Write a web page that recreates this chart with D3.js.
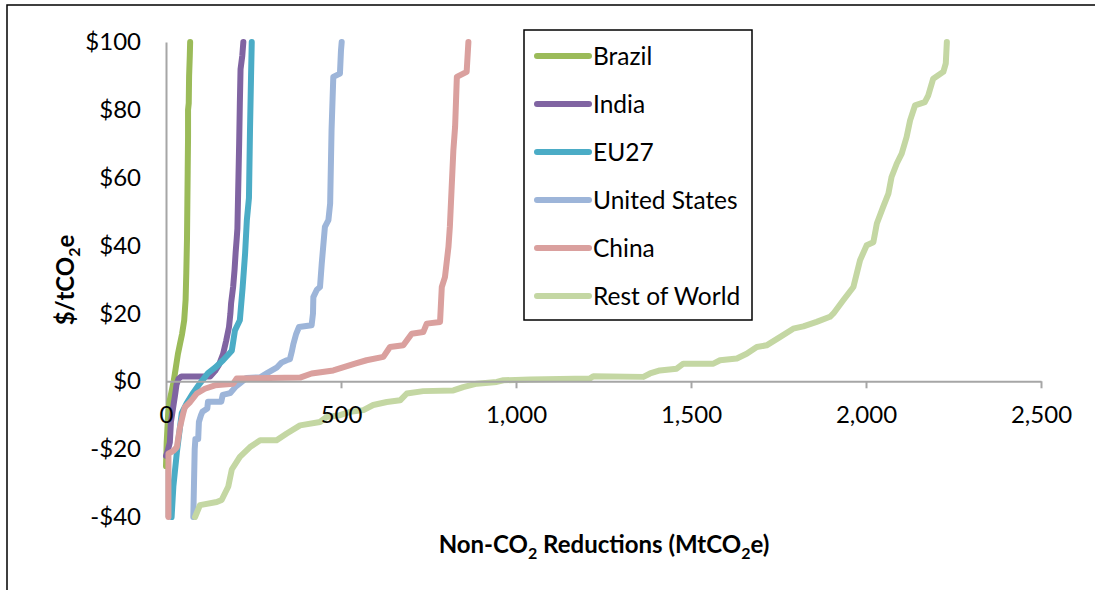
<!DOCTYPE html>
<html>
<head>
<meta charset="utf-8">
<script src="https://cdn.jsdelivr.net/npm/d3@7"></script>
<style>
  html, body { margin: 0; padding: 0; background: #fff; }
  svg { display: block; }
  text { font-family: Lato, "Open Sans", sans-serif; fill: #000; }
</style>
</head>
<body>
<svg id="chart" width="1095" height="590"></svg>
<script>
// Marginal abatement cost curves: [cumulative reduction (MtCO2e), cost ($/tCO2e)]
const brazil = [[0,-25],[2,-18],[6,-10],[10,-6],[16,-3],[22,0],[28,4],[34,8],[40,11],[46,14],[52,18],[56,24],[58,32],[60,42],[61,52],[62,62],[63,72],[63,80],[65,82],[66,90],[68,96],[69,100]];
const india = [[0,-22],[5,-20.5],[11,-18],[14,-12],[20,-8],[26,-4],[30,-1],[36,0.8],[44,1.4],[126,1.4],[140,3],[152,5],[163,8],[172,12],[180,16],[184,20],[186,23],[192,28],[196,33],[199,38],[202,42],[204,45],[206,55],[207,60],[209,70],[211,82],[213,92],[218,96],[221,100]];
const eu27 = [[16,-40],[21,-31],[31,-21],[40,-13.5],[45,-9.4],[59,-6.5],[77,-3.5],[97,-0.6],[120,2.4],[140,4],[163,6.2],[188,9],[197,15],[211,18],[219,27.7],[226,37.7],[231,47.5],[237,54],[240,74],[243,90],[245,100]];
const unitedStates = [[78,-40],[80,-30],[82,-20],[84,-17],[92,-17],[94,-12],[100,-10],[104,-9],[118,-8],[120,-6],[158,-6],[162,-4],[183,-3.5],[200,-1.5],[211,-0.6],[230,1],[269,1.2],[290,2.5],[316,4],[330,5.5],[345,6.2],[354,6.5],[360,9],[364,11],[372,14],[380,16],[416,16.5],[420,20],[421,24.8],[431,27],[440,27.8],[445,34.7],[454,45.5],[464,47.5],[469,52.4],[473,74],[478,89.7],[497,90.7],[500,97.6],[502,100]];
const china = [[7,-40],[7,-21.3],[21,-20.5],[31,-19.4],[40,-13.5],[49,-9.5],[54,-7.6],[69,-6.1],[88,-3.6],[111,-2.2],[140,-1.2],[192,-0.7],[202,0.8],[383,1.1],[416,2.3],[478,3.2],[540,5.2],[573,6.2],[621,7.2],[640,10.1],[678,10.6],[702,14],[735,14.5],[745,17],[783,17.5],[788,27.8],[797,30.7],[807,39.6],[811,45.5],[821,68],[826,75],[831,89.7],[859,91.2],[864,100]];
const restOfWorld = [[83,-40],[97,-36.5],[145,-35.6],[159,-35],[178,-31],[188,-26],[211,-22.3],[240,-19.4],[269,-17.4],[316,-17.4],[345,-15.4],[383,-13],[440,-12],[459,-10.5],[497,-10],[526,-9],[564,-8.5],[592,-7],[631,-6.1],[669,-5.6],[688,-3.6],[735,-2.9],[821,-2.7],[849,-1.7],[888,-0.7],[945,-0.2],[964,0.3],[1040,0.5],[1211,0.8],[1221,1.5],[1364,1.3],[1383,2.3],[1411,3.2],[1459,3.7],[1478,5.2],[1564,5.2],[1583,6.2],[1631,6.7],[1659,8.1],[1688,10.1],[1716,10.6],[1754,13],[1792,15.5],[1821,16.2],[1859,17.5],[1897,19],[1907,20],[1935,23.9],[1964,27.8],[1983,35.7],[2002,40.1],[2021,41],[2031,46.5],[2049,51.4],[2064,55.3],[2073,60.2],[2088,64.2],[2102,67.1],[2116,72],[2126,76.9],[2140,81.3],[2168,82.3],[2178,84.3],[2192,89.2],[2221,91.2],[2228,93.7],[2231,100]];

const seriesNames = ["Brazil", "India", "EU27", "United States", "China", "Rest of World"];
const seriesData = [brazil, india, eu27, unitedStates, china, restOfWorld];
const seriesColors = ["#9BBB59", "#8064A2", "#4BACC6", "#9DB5D9", "#DAA09E", "#C4D7A3"];

const xTicks = [0, 500, 1000, 1500, 2000, 2500];
const yTicks = [-40, -20, 0, 20, 40, 60, 80, 100];

const svg = d3.select("#chart");

// Outer chart frame
svg.append("rect")
  .attr("x", 7).attr("y", 5)
  .attr("width", 1100).attr("height", 600)
  .attr("fill", "none").attr("stroke", "#000").attr("stroke-width", 1.5);

const x = d3.scaleLinear().domain([0, 2500]).range([166, 1041]);
const y = d3.scaleLinear().domain([-40, 100]).range([517, 42]);

const axisColor = "#A6A6A6";
const tickFont = 24;

// Horizontal axis crossing at $0
const xAxis = svg.append("g")
  .attr("transform", `translate(0,${y(0)})`)
  .call(d3.axisBottom(x).tickValues(xTicks).tickFormat(d3.format(",")).tickSize(7).tickSizeOuter(0));
xAxis.select(".domain").attr("stroke", axisColor).attr("stroke-width", 2);
xAxis.selectAll(".tick line").attr("stroke", axisColor).attr("stroke-width", 2)
  .filter(d => d === 0).remove();

// Vertical axis
const yAxis = svg.append("g")
  .attr("transform", `translate(${x(0)},0)`)
  .call(d3.axisLeft(y).tickValues(yTicks)
    .tickFormat(v => (v < 0 ? "-$" + Math.abs(v) : "$" + v))
    .tickSize(0).tickPadding(25));
yAxis.select(".domain").attr("stroke", axisColor).attr("stroke-width", 2);
yAxis.selectAll(".tick text").style("font-size", tickFont + "px").attr("fill", "#000");

// Cost curves
const line = d3.line().x(d => x(d[0])).y(d => y(d[1]));
svg.append("g").selectAll("path")
  .data(seriesData)
  .join("path")
  .attr("d", line)
  .attr("fill", "none")
  .attr("stroke", (d, i) => seriesColors[i])
  .attr("stroke-width", 6)
  .attr("stroke-linejoin", "round")
  .attr("stroke-linecap", "round");

// Horizontal tick labels sit above the curves
xAxis.raise();
xAxis.selectAll(".tick text")
  .attr("y", 33).attr("dy", "0.35em")
  .style("font-size", tickFont + "px").attr("fill", "#000");

// Axis titles
const xTitle = svg.append("text")
  .attr("x", 604).attr("y", 553)
  .attr("text-anchor", "middle")
  .style("font-size", "24px").style("font-weight", "bold");
xTitle.append("tspan").text("Non-CO");
xTitle.append("tspan").text("2").attr("dy", 6).style("font-size", "16px");
xTitle.append("tspan").text(" Reductions (MtCO").attr("dy", -6);
xTitle.append("tspan").text("2").attr("dy", 6).style("font-size", "16px");
xTitle.append("tspan").text("e)").attr("dy", -6);

const yTitle = svg.append("text")
  .attr("transform", "translate(74,280) rotate(-90)")
  .attr("text-anchor", "middle")
  .style("font-size", "24px").style("font-weight", "bold");
yTitle.append("tspan").text("$/tCO");
yTitle.append("tspan").text("2").attr("dy", 6).style("font-size", "16px");
yTitle.append("tspan").text("e").attr("dy", -6);

// Legend
const legend = svg.append("g");
legend.append("rect")
  .attr("x", 524).attr("y", 30).attr("width", 228).attr("height", 290)
  .attr("fill", "#fff").attr("stroke", "#000").attr("stroke-width", 1.5);
const rows = legend.selectAll("g.row")
  .data(seriesNames)
  .join("g")
  .attr("class", "row")
  .attr("transform", (d, i) => `translate(0,${56 + i * 48})`);
rows.append("line")
  .attr("x1", 537).attr("x2", 589)
  .attr("stroke", (d, i) => seriesColors[i])
  .attr("stroke-width", 6).attr("stroke-linecap", "round");
rows.append("text")
  .attr("x", 593).attr("dy", "0.35em")
  .style("font-size", "24.5px")
  .text(d => d);
</script>
</body>
</html>
